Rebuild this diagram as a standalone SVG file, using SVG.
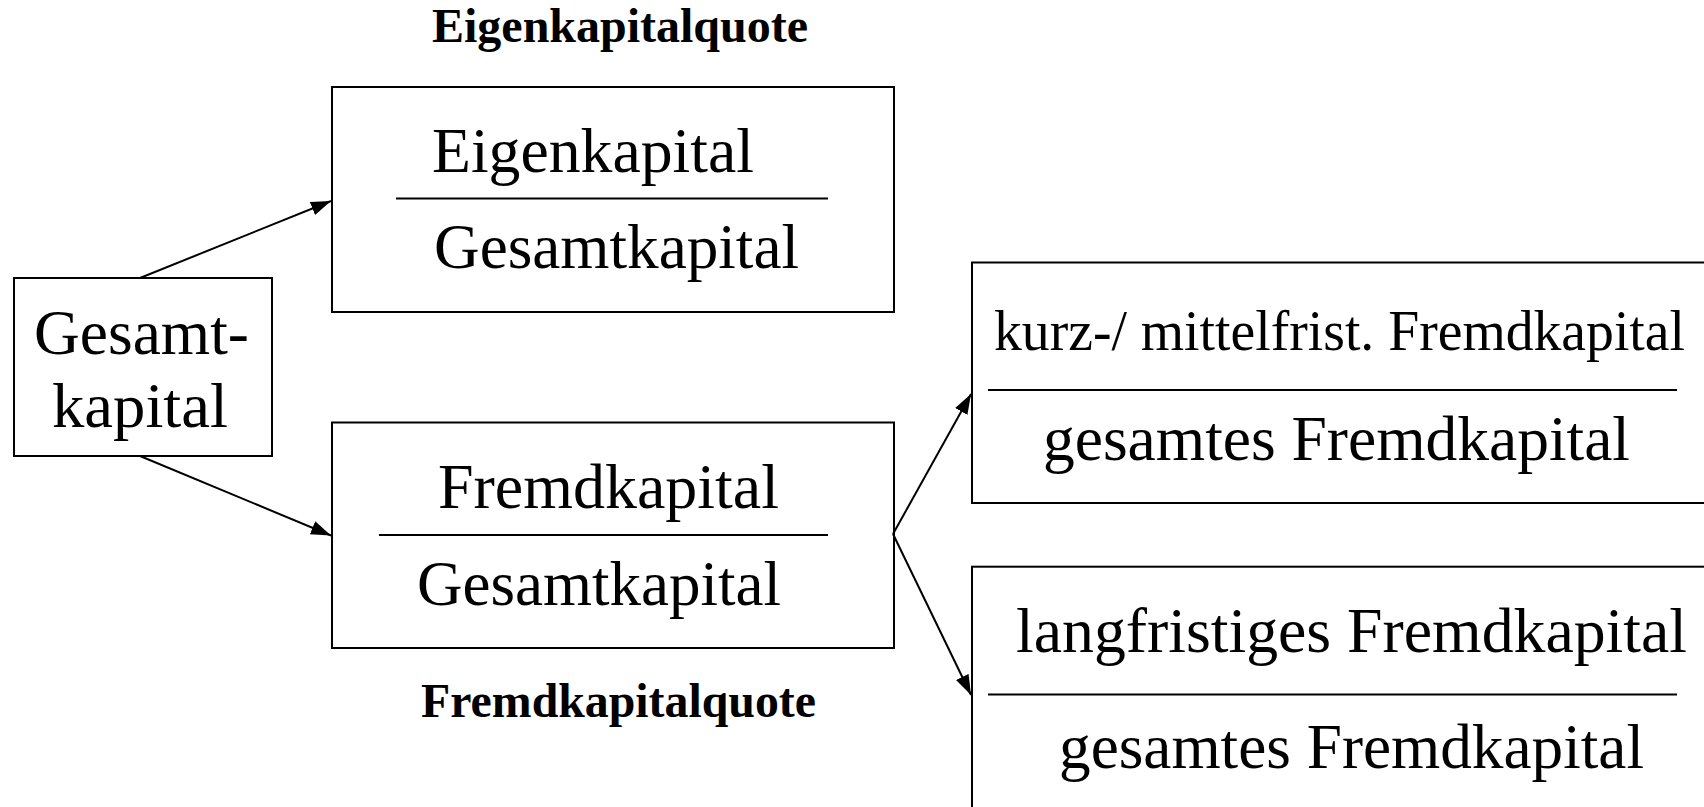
<svg xmlns="http://www.w3.org/2000/svg" width="1704" height="807" viewBox="0 0 1704 807">
<style>
.box{fill:#fff;stroke:#000;stroke-width:2}
.div{stroke:#000;stroke-width:2}
.t{font-family:"Liberation Serif","Times New Roman",serif;font-size:64px;fill:#000}
.b{font-family:"Liberation Serif","Times New Roman",serif;font-size:48px;font-weight:bold;fill:#000}
.c{stroke:#000;stroke-width:2;fill:none;marker-end:url(#ah)}
</style>
<defs>
<marker id="ah" markerUnits="userSpaceOnUse" markerWidth="20" markerHeight="14" refX="20" refY="7" orient="auto">
<path d="M0,0 L20,7 L0,14 z" fill="#000"/>
</marker>
</defs>
<rect width="1704" height="807" fill="#fff"/>
<g id="label-eigenkapitalquote"><text class="b" x="432" y="42" textLength="376" lengthAdjust="spacingAndGlyphs">Eigenkapitalquote</text></g>
<g id="label-fremdkapitalquote"><text class="b" x="421" y="717" textLength="395" lengthAdjust="spacingAndGlyphs">Fremdkapitalquote</text></g>
<g id="gesamtkapital">
<rect class="box" x="14" y="278" width="258" height="178"/>
<text class="t" x="34" y="354" textLength="215" lengthAdjust="spacingAndGlyphs">Gesamt-</text>
<text class="t" x="52" y="427" textLength="176" lengthAdjust="spacingAndGlyphs">kapital</text>
</g>
<g id="eigenkapitalquote">
<rect class="box" x="332" y="87" width="562" height="225"/>
<text class="t" x="432" y="172" textLength="322" lengthAdjust="spacingAndGlyphs">Eigenkapital</text>
<line class="div" x1="396" y1="198.5" x2="828" y2="198.5"/>
<text class="t" x="434" y="268" textLength="365" lengthAdjust="spacingAndGlyphs">Gesamtkapital</text>
</g>
<g id="fremdkapitalquote">
<rect class="box" x="332" y="422.5" width="562" height="225.5"/>
<text class="t" x="438" y="508" textLength="341" lengthAdjust="spacingAndGlyphs">Fremdkapital</text>
<line class="div" x1="379" y1="535" x2="828" y2="535"/>
<text class="t" x="417" y="605" textLength="364" lengthAdjust="spacingAndGlyphs">Gesamtkapital</text>
</g>
<g id="kurzfristig">
<rect class="box" x="972" y="262.5" width="800" height="240.5"/>
<text class="t" x="994" y="350" style="font-size:57px" textLength="691" lengthAdjust="spacingAndGlyphs">kurz-/ mittelfrist. Fremdkapital</text>
<line class="div" x1="988" y1="390" x2="1677" y2="390"/>
<text class="t" x="1043" y="460" textLength="587" lengthAdjust="spacingAndGlyphs">gesamtes Fremdkapital</text>
</g>
<g id="langfristig">
<rect class="box" x="972" y="566.7" width="800" height="300"/>
<text class="t" x="1016" y="652" textLength="671" lengthAdjust="spacingAndGlyphs">langfristiges Fremdkapital</text>
<line class="div" x1="988" y1="694.5" x2="1677" y2="694.5"/>
<text class="t" x="1059" y="768" textLength="585" lengthAdjust="spacingAndGlyphs">gesamtes Fremdkapital</text>
</g>
<g id="connectors">
<line class="c" x1="140" y1="278" x2="331" y2="201"/>
<line class="c" x1="140" y1="456" x2="331" y2="535.5"/>
<line class="c" x1="893" y1="534" x2="971" y2="394"/>
<line class="c" x1="893" y1="534" x2="971" y2="695"/>
</g>
</svg>
